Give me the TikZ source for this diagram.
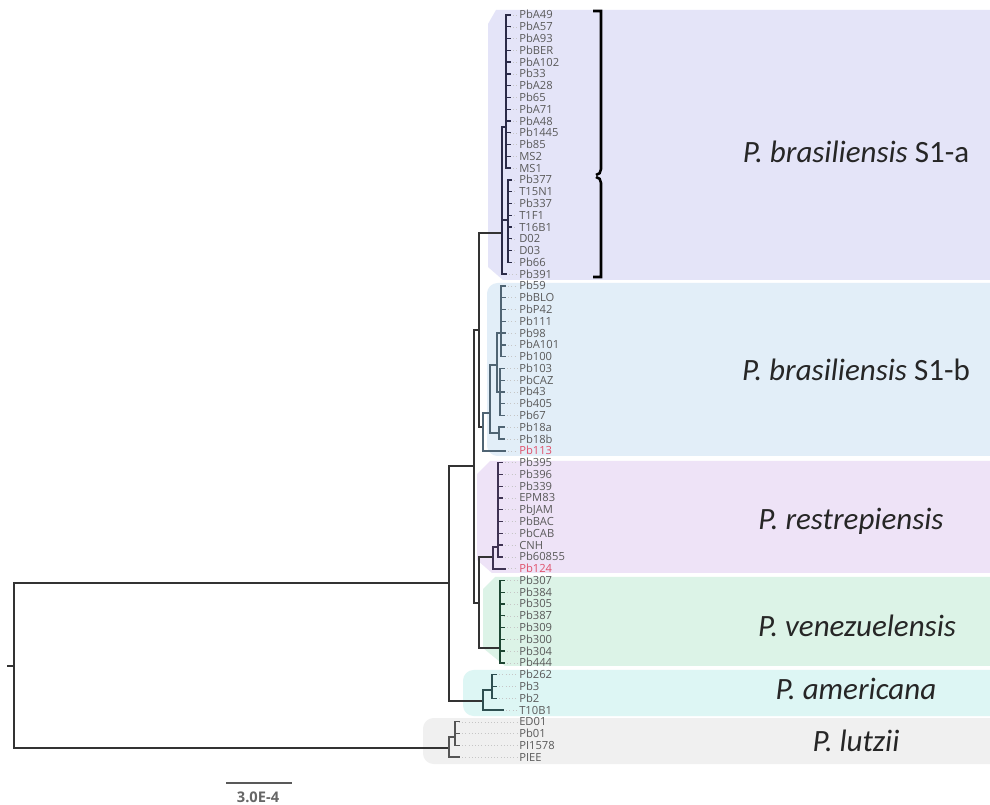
\documentclass[tikz,border=0pt]{standalone}
\usepackage{fontspec}
\newfontfamily\tipfont{Open Sans}
\newfontfamily\cladefont{Carlito}
\definecolor{colSa}{HTML}{E4E4F8}
\definecolor{colSb}{HTML}{E2EEF8}
\definecolor{colRe}{HTML}{EEE3F7}
\definecolor{colVe}{HTML}{DCF3E7}
\definecolor{colAm}{HTML}{DDF6F4}
\definecolor{colLu}{HTML}{F0F0F0}
\definecolor{tipgray}{HTML}{5A5A5A}
\definecolor{tipred}{HTML}{E0506A}
\definecolor{trunk}{HTML}{333333}
\definecolor{brSa}{HTML}{2B2B48}
\definecolor{brSb}{HTML}{4F6473}
\definecolor{brRe}{HTML}{3E3252}
\definecolor{brVe}{HTML}{1D4632}
\definecolor{brAm}{HTML}{2E4F50}
\definecolor{brLu}{HTML}{555555}
\begin{document}
\begin{tikzpicture}[x=0.75pt,y=-0.75pt,
  branch/.style={line width=1.3pt,line cap=rect,line join=miter,draw=trunk},
  leader/.style={draw=gray!45,line width=0.4pt,dotted},
  tiplabel/.style={anchor=base west,inner sep=0pt,text=tipgray,font=\tipfont\fontsize{8.4pt}{10pt}\selectfont},
  cladelabel/.style={anchor=base,inner sep=0pt,text=black!85,font=\cladefont\fontsize{23.25pt}{26pt}\selectfont},
  bracket/.style={line width=1.9pt,draw=black}]
\useasboundingbox (0,0) rectangle (990,805);
\fill[white] (0,0) rectangle (990,805);
% clade backgrounds
\fill[colSa] (496,10) -- (990,10) -- (990,280) -- (503,280) -- (488,267) -- (488,24) -- cycle;
\fill[colSb,rounded corners=8pt] (487,283) rectangle (1010,456);
\fill[colRe] (490,461) -- (990,461) -- (990,573) -- (492,573) -- (477,560) -- (477,474) -- cycle;
\fill[colVe] (495,577) -- (990,577) -- (990,666) -- (505,666) -- (483,648) -- (483,589) -- cycle;
\fill[colAm,rounded corners=8pt] (463,670) rectangle (1010,716);
\fill[colLu,rounded corners=8pt] (423,718) rectangle (1010,764);
% tip labels
\foreach \nm [count=\i from 0] in {PbA49,PbA57,PbA93,PbBER,PbA102,Pb33,PbA28,Pb65,PbA71,PbA48,Pb1445,Pb85,MS2,MS1,Pb377,T15N1,Pb337,T1F1,T16B1,D02,D03,Pb66,Pb391,Pb59,PbBLO,PbP42,Pb111,Pb98,PbA101,Pb100,Pb103,PbCAZ,Pb43,Pb405,Pb67,Pb18a,Pb18b,{\color{tipred}Pb113},Pb395,Pb396,Pb339,EPM83,PbJAM,PbBAC,PbCAB,CNH,Pb60855,{\color{tipred}Pb124},Pb307,Pb384,Pb305,Pb387,Pb309,Pb300,Pb304,Pb444,Pb262,Pb3,Pb2,T10B1,ED01,Pb01,PI1578,PIEE}
  \node[tiplabel] (L\i) at (519,{15+\i*11.78+4}) {\nm};
% tip ends
\foreach \i in {0,...,13} \coordinate (E\i) at (510,{15+\i*11.78});
\foreach \i in {14,...,21} \coordinate (E\i) at (511,{15+\i*11.78});
\coordinate (E22) at (506,{15+22*11.78});
\foreach \i in {23,...,29} \coordinate (E\i) at (505,{15+\i*11.78});
\foreach \i in {30,...,36} \coordinate (E\i) at (504,{15+\i*11.78});
\coordinate (E37) at (505,{15+37*11.78});
\foreach \i in {38,...,46} \coordinate (E\i) at (502,{15+\i*11.78});
\coordinate (E47) at (505,{15+47*11.78});
\foreach \i in {48,...,55} \coordinate (E\i) at (504,{15+\i*11.78});
\foreach \i in {56,...,58} \coordinate (E\i) at (496,{15+\i*11.78});
\coordinate (E59) at (503,{15+59*11.78});
\foreach \i in {60,...,63} \coordinate (E\i) at (459,{15+\i*11.78});
% leaders
\foreach \i in {0,...,63} \draw[leader] (E\i) -- ([xshift=-1.5pt]E\i -| L\i.west);
% internal nodes
\coordinate (rootstub) at (8,666);
\coordinate (root) at (14,666);
\coordinate (nA) at (449,583);
\coordinate (nL) at (449,748);
\coordinate (N1) at (474,466);
\coordinate (nAm) at (483,701);
\coordinate (nS1) at (479,330);
\coordinate (nRV) at (479,603);
\coordinate (nSa) at (502,233);
\coordinate (nSb0) at (483,427);
\coordinate (aUp) at (506,127);
\coordinate (aLow) at (508,220);
\coordinate (nSb1) at (490,413);
\coordinate (nSb2) at (497,365);
\coordinate (gA) at (501,333);
\coordinate (gB) at (500,392);
\coordinate (g18) at (499,433);
\coordinate (nR) at (493,557);
\coordinate (gR) at (498,547);
\coordinate (gV) at (500,648);
\coordinate (gAm) at (492,690);
\coordinate (gL) at (455,737);
% backbone
\draw[branch] (rootstub) -- (root);
\foreach \p/\c in {root/nA,root/nL,nA/N1,nA/nAm,N1/nS1,N1/nRV,nS1/nSa,nS1/nSb0}
  \draw[branch] (\p) |- (\c);
% S1-a
\foreach \p/\c in {nSa/aUp,nSa/aLow,nSa/E22}
  \draw[branch,draw=brSa] (\p) |- (\c);
\foreach \i in {0,...,13} \draw[branch,draw=brSa,line width=1pt] (aUp) |- (E\i);
\foreach \i in {14,...,21} \draw[branch,draw=brSa,line width=1pt] (aLow) |- (E\i);
% S1-b
\foreach \p/\c in {nSb0/nSb1,nSb0/E37,nSb1/nSb2,nSb1/g18,nSb2/gA,nSb2/gB,g18/E35,g18/E36}
  \draw[branch,draw=brSb,line width=1.5pt] (\p) |- (\c);
\foreach \i in {23,...,29} \draw[branch,draw=brSb,line width=1pt] (gA) |- (E\i);
\foreach \i in {30,...,34} \draw[branch,draw=brSb,line width=1pt] (gB) |- (E\i);
% restrepiensis + venezuelensis
\draw[branch] (nRV) |- (nR);
\draw[branch] (nRV) |- (gV);
\foreach \p/\c in {nR/gR,nR/E47}
  \draw[branch,draw=brRe] (\p) |- (\c);
\foreach \i in {38,...,46} \draw[branch,draw=brRe,line width=1pt] (gR) |- (E\i);
\foreach \i in {48,...,55} \draw[branch,draw=brVe,line width=1pt] (gV) |- (E\i);
% americana
\foreach \p/\c in {nAm/gAm,nAm/E59}
  \draw[branch,draw=brAm] (\p) |- (\c);
\foreach \i in {56,...,58} \draw[branch,draw=brAm,line width=1pt] (gAm) |- (E\i);
% lutzii
\foreach \p/\c in {nL/gL,nL/E63}
  \draw[branch,draw=brLu] (\p) |- (\c);
\foreach \i in {60,...,62} \draw[branch,draw=brLu,line width=1pt] (gL) |- (E\i);
% brackets
\draw[bracket] (593,11) -- (601,11) -- (601,169) to[out=-90,in=0] (596,175);
\draw[bracket] (596,177) to[out=0,in=90] (601,183) -- (601,277) -- (593,277);
% clade labels
\node[cladelabel] (cSa) at (856,163) {\textit{P. brasiliensis} S1-a};
\node[cladelabel] (cSb) at (856,381) {\textit{P. brasiliensis} S1-b};
\node[cladelabel] (cRe) at (851,530) {\textit{P. restrepiensis}};
\node[cladelabel] (cVe) at (857,637) {\textit{P. venezuelensis}};
\node[cladelabel] (cAm) at (856,700) {\textit{P. americana}};
\node[cladelabel] (cLu) at (856,751) {\textit{P. lutzii}};
% scale bar
\coordinate (sbL) at (226,783);
\coordinate (sbR) at (292,783);
\draw[line width=1.5pt,draw=black!65] (sbL) -- (sbR);
\node[anchor=base,inner sep=0pt,text=black!60,font=\tipfont\bfseries\fontsize{11pt}{13pt}\selectfont] (sbT) at (258,802) {3.0E-4};
\end{tikzpicture}
\end{document}
